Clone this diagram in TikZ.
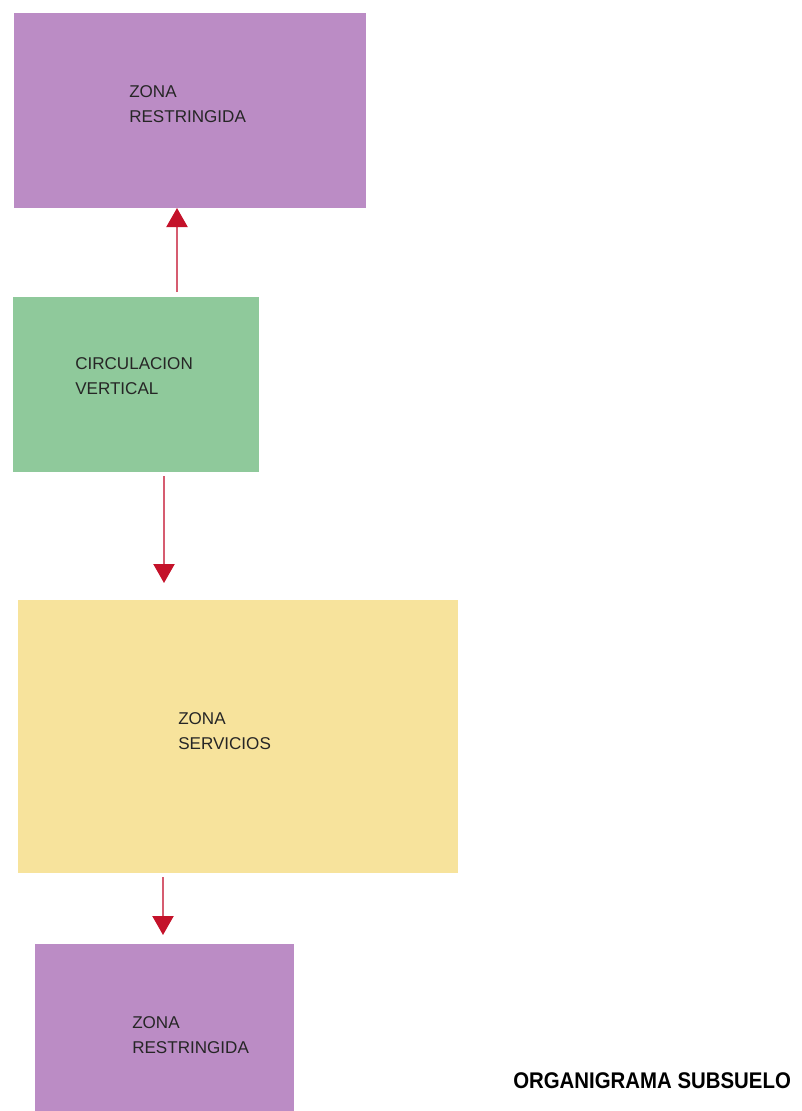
\documentclass[tikz,border=0pt]{standalone}
\usepackage{fontspec}
\setmainfont{Liberation Sans}
\newfontfamily\titlefont[FakeStretch=0.9]{Liberation Sans}
\usetikzlibrary{arrows.meta,calc}
\definecolor{zpurple}{RGB}{187,140,197}
\definecolor{zgreen}{RGB}{143,201,155}
\definecolor{zyellow}{RGB}{247,227,156}
\definecolor{zhead}{RGB}{196,18,42}
\definecolor{zshaft}{RGB}{214,92,112}
\begin{document}
\begin{tikzpicture}[x=0.75pt,y=-0.75pt,
  zbox/.style={inner sep=0pt,outer sep=0pt,anchor=north west},
  ztext/.style={inner sep=0pt,anchor=north west,align=left,
    font=\fontsize{12.8pt}{18.9pt}\selectfont,text=black!85},
  zarrow/.style={draw=zshaft,line width=2.2pt*0.75,
    -{Triangle[width=21*0.75pt,length=19*0.75pt,color=zhead]}}]
\useasboundingbox (0,0) rectangle (801,1111);
% boxes
\node[zbox,fill=zpurple,minimum width={352*0.75pt},minimum height={195*0.75pt}] (r1) at (14,13) {};
\node[zbox,fill=zgreen,minimum width={246*0.75pt},minimum height={175*0.75pt}] (c) at (13,297) {};
\node[zbox,fill=zyellow,minimum width={440*0.75pt},minimum height={273*0.75pt}] (s) at (18,600) {};
\node[zbox,fill=zpurple,minimum width={259*0.75pt},minimum height={167*0.75pt}] (r2) at (35,944) {};
% texts
\node[ztext] (t1) at (129,85) {ZONA\\RESTRINGIDA};
\node[ztext] (t2) at (75,357) {CIRCULACION\\VERTICAL};
\node[ztext] (t3) at (178,712) {ZONA\\SERVICIOS};
\node[ztext] (t4) at (132,1016) {ZONA\\RESTRINGIDA};
\node[inner sep=0pt,anchor=base west,font=\titlefont\bfseries\fontsize{17pt}{20pt}\selectfont] (title) at (513,1088) {ORGANIGRAMA SUBSUELO};
% arrows
\coordinate (a1) at ($(c.north)+(41,-5)$);
\draw[zarrow] (a1) -- (a1 |- r1.south);
\coordinate (a2) at ($(c.south)+(28,4)$);
\draw[zarrow] (a2) -- ($(a2 |- s.north)+(0,-17)$);
\coordinate (a3) at ($(s.south)+(-75,4)$);
\draw[zarrow] (a3) -- ($(a3 |- r2.north)+(0,-9)$);
\end{tikzpicture}
\end{document}
